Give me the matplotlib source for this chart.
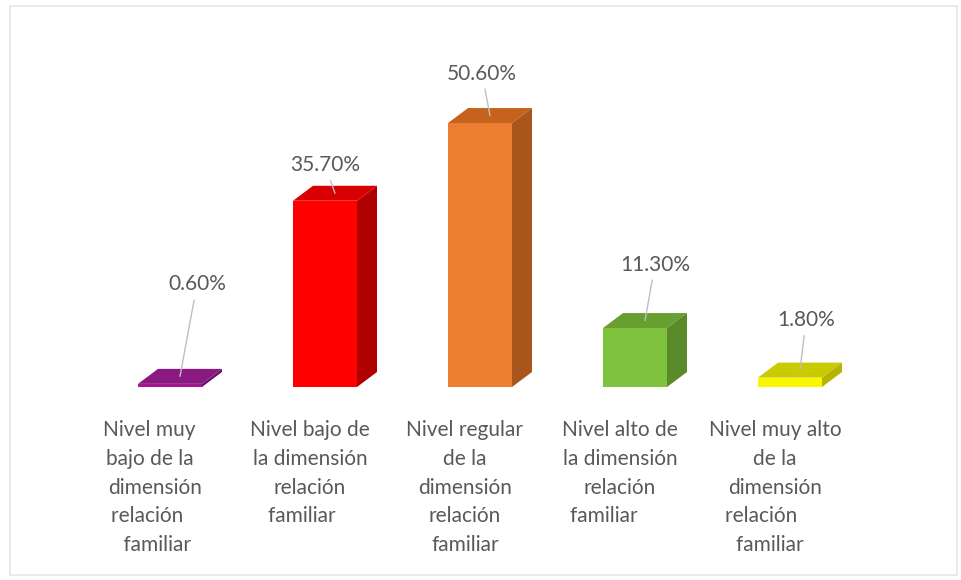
import matplotlib.pyplot as plt
from matplotlib.patches import Polygon, Rectangle

# datos
categorias = [
    "Nivel muy  \nbajo de la  \ndimensión\nrelación   \n familiar",
    "Nivel bajo de\nla dimensión\nrelación\nfamiliar   ",
    "Nivel regular\nde la\ndimensión\nrelación\nfamiliar",
    "Nivel alto de\nla dimensión\nrelación\nfamiliar      ",
    "Nivel muy alto\nde la\ndimensión\nrelación     \nfamiliar  ",
]
porcentajes = [0.6, 35.7, 50.6, 11.3, 1.8]
etiquetas = ["0.60%", "35.70%", "50.60%", "11.30%", "1.80%"]

# colores: frente, tapa, lado
frente = ["#A4168F", "#FF0000", "#ED7D31", "#7EC23E", "#F7F700"]
tapa = ["#8A1A82", "#D80000", "#C4621E", "#67A030", "#CACA00"]
lado = ["#6E0F68", "#B00000", "#A8561C", "#5A8A2A", "#B5B500"]

# desplazamiento de las etiquetas (px) respecto al centro de la tapa
off_etq = [(17, 92), (-10, 28), (-8, 42), (10, 56), (6, 50)]

W, H = 961, 580
fig = plt.figure(figsize=(W / 100, H / 100), dpi=100)
ax = fig.add_axes([92.5 / W, (H - 387) / H, 775 / W, 313 / H])
ax.set_xlim(-0.5, 4.5)
ax.set_ylim(0, 60)
ax.axis('off')

ancho = 64 / 155
dx = 20 / 155
dy = 15 / 5.22

xs = list(range(len(porcentajes)))
ax.bar(xs, porcentajes, width=ancho, color=frente, zorder=2)

for i, h in enumerate(porcentajes):
    x0, x1 = i - ancho / 2, i + ancho / 2
    ax.add_patch(Polygon([(x0, h), (x1, h), (x1 + dx, h + dy), (x0 + dx, h + dy)],
                         closed=True, facecolor=tapa[i], edgecolor='none', zorder=2))
    ax.add_patch(Polygon([(x1, 0), (x1 + dx, dy), (x1 + dx, h + dy), (x1, h)],
                         closed=True, facecolor=lado[i], edgecolor='none', zorder=2))
    ax.annotate(etiquetas[i], xy=(i + dx / 2, h + dy / 2),
                xytext=(off_etq[i][0] * 0.72, off_etq[i][1] * 0.72),
                textcoords='offset points', ha='center', va='center',
                fontsize=15, color='#595959', family='Lato',
                arrowprops=dict(arrowstyle='-', color='#BFBFBF', lw=1,
                                shrinkA=2, shrinkB=0), zorder=3)
    ax.annotate(categorias[i], xy=(i, 0), xytext=(-15 * 0.72, -33 * 0.72),
                textcoords='offset points', ha='center', va='top',
                multialignment='center', fontsize=15, color='#595959',
                family='Lato', linespacing=1.55)

# marco del gráfico
fig.patches.append(Rectangle((10 / W, 5 / H), 947 / W, 569 / H, transform=fig.transFigure,
                             fill=False, edgecolor='#E6E6E6', lw=1.2))

fig.savefig('out.png', dpi=100)
